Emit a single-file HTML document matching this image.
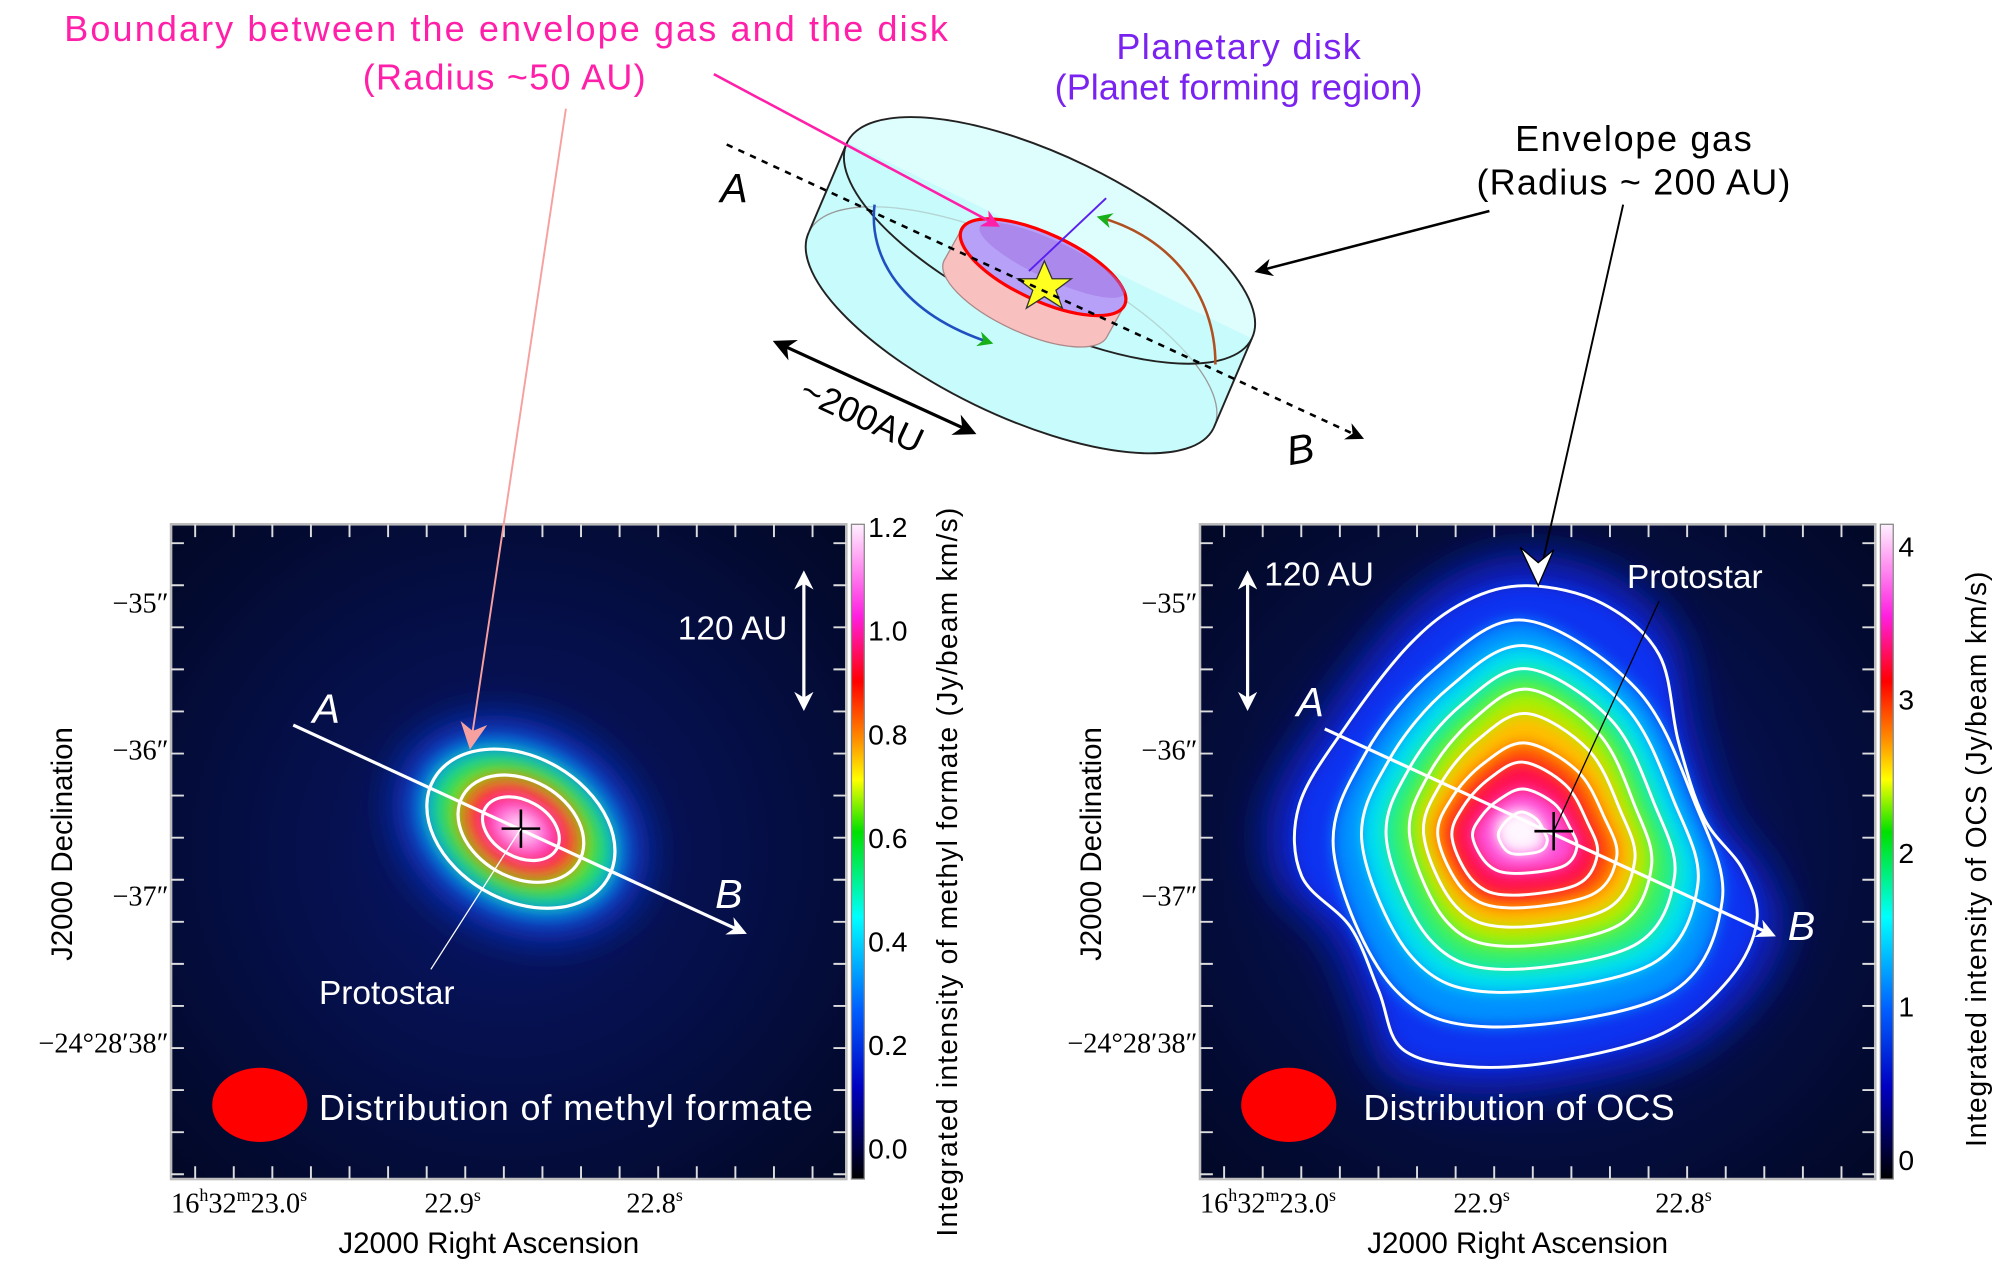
<!DOCTYPE html>
<html><head><meta charset="utf-8"><style>
html,body{margin:0;padding:0;background:#fff;}
svg{display:block;}
text{font-family:"Liberation Sans",sans-serif;}
</style></head><body>
<svg id="sv" width="2000" height="1266" viewBox="0 0 1555 990" preserveAspectRatio="none" xmlns="http://www.w3.org/2000/svg">
<defs>
<linearGradient id="cb" x1="0" y1="0" x2="0" y2="1">
<stop offset="0" stop-color="#fff0ff"/><stop offset="0.14" stop-color="#ff20e0"/><stop offset="0.24" stop-color="#ff0000"/><stop offset="0.33" stop-color="#ff9000"/><stop offset="0.39" stop-color="#ffff00"/><stop offset="0.47" stop-color="#00e000"/><stop offset="0.6" stop-color="#00ffff"/><stop offset="0.74" stop-color="#0060ff"/><stop offset="0.86" stop-color="#0000c0"/><stop offset="1" stop-color="#000000"/>
</linearGradient>
<radialGradient id="bg" cx="0.5" cy="0.5" r="0.7"><stop offset="0" stop-color="#08166a"/><stop offset="1" stop-color="#020826"/></radialGradient>
<filter id="bl" x="-50%" y="-50%" width="200%" height="200%"><feGaussianBlur stdDeviation="9"/></filter>
<filter id="bl3" x="-50%" y="-50%" width="200%" height="200%"><feGaussianBlur stdDeviation="6"/></filter>
<filter id="bl2" x="-50%" y="-50%" width="200%" height="200%"><feGaussianBlur stdDeviation="14"/></filter>
<clipPath id="c1"><rect x="133" y="410" width="525" height="512"/></clipPath>
<clipPath id="c2"><rect x="933" y="410" width="525" height="512"/></clipPath>
<marker id="aw" viewBox="0 0 10 10" refX="8" refY="5" markerWidth="6" markerHeight="6" orient="auto-start-reverse"><path d="M0,0 L10,5 L0,10 L3,5z" fill="#fff"/></marker>
<marker id="ab" viewBox="0 0 10 10" refX="8" refY="5" markerWidth="7" markerHeight="7" orient="auto-start-reverse"><path d="M0,0 L10,5 L0,10 L3,5z" fill="#000"/></marker>
<marker id="am" viewBox="0 0 10 10" refX="8" refY="5" markerWidth="7" markerHeight="7" orient="auto"><path d="M0,0 L10,5 L0,10 L3,5z" fill="#ff1fa8"/></marker>
<marker id="as" viewBox="0 0 10 10" refX="8" refY="5" markerWidth="14" markerHeight="14" orient="auto"><path d="M0,0 L10,5 L0,10 L3,5z" fill="#f7a0a0"/></marker>
<marker id="ag" viewBox="0 0 10 10" refX="8" refY="5" markerWidth="6" markerHeight="6" orient="auto"><path d="M0,0 L10,5 L0,10 L3,5z" fill="#18b018"/></marker>
</defs>

<text x="50" y="32" font-size="28" fill="#ff1fa8" textLength="687">Boundary between the envelope gas and the disk</text>
<text x="282" y="70" font-size="28" fill="#ff1fa8" textLength="220">(Radius ~50 AU)</text>
<text x="868" y="46" font-size="28" fill="#7a22f0" textLength="190">Planetary disk</text>
<text x="820" y="78" font-size="28" fill="#7a22f0" textLength="286">(Planet forming region)</text>
<text x="1178" y="118" font-size="28" fill="#000" textLength="184">Envelope gas</text>
<text x="1148" y="152" font-size="28" fill="#000" textLength="244">(Radius ~ 200 AU)</text>

<g transform="translate(816,188) rotate(26)">
  <g fill="#c8fbfb">
    <ellipse cx="4" cy="76" rx="175" ry="65"/>
    <polygon points="-175,0 175,0 179,76 -171,76"/>
  </g>
  <path d="M-171,76 A175,65 0 0,0 179,76" fill="none" stroke="#222" stroke-width="1.5"/>
  <path d="M-171,76 A175,65 0 0,1 179,76" fill="none" stroke="#999" stroke-width="1"/>
  <line x1="-175" y1="0" x2="-171" y2="76" stroke="#222" stroke-width="1.5"/>
  <line x1="175" y1="0" x2="179" y2="76" stroke="#222" stroke-width="1.5"/>
  <ellipse cx="0" cy="0" rx="175" ry="65" fill="#c8fbfb" fill-opacity="0.6" stroke="#222" stroke-width="1.5"/>
</g>
<g transform="translate(811,209) rotate(25)">
  <ellipse cx="-2" cy="28" rx="70" ry="26" fill="#f9c0c0" stroke="#aa8888" stroke-width="1"/>
  <polygon points="-70,0 70,0 68,28 -72,28" fill="#f9c0c0"/>
  <line x1="-70" y1="0" x2="-72" y2="28" stroke="#aa8888"/>
  <line x1="70" y1="0" x2="68" y2="28" stroke="#aa8888"/>
  <ellipse cx="0" cy="0" rx="70" ry="26" fill="#b7a0f8" stroke="#ff0000" stroke-width="2.5"/>
  <ellipse cx="4" cy="-8" rx="62" ry="15" fill="#a070e0" opacity="0.5"/>
</g>
<polygon points="812,204 818,218 833,218 821,227 826,241 812,232 798,241 803,227 791,218 806,218" fill="#ffff20" stroke="#333" stroke-width="1"/>
<path d="M680,160 C675,200 700,245 770,268" fill="none" stroke="#2050c0" stroke-width="2" marker-end="url(#ag)"/>
<path d="M945,285 C945,230 910,185 855,170" fill="none" stroke="#b05020" stroke-width="2" marker-end="url(#ag)"/>
<line x1="565" y1="113" x2="1058" y2="342" stroke="#000" stroke-width="2" stroke-dasharray="5,5" marker-end="url(#ab)"/>
<text x="560" y="158" font-size="32" font-style="italic">A</text>
<text x="1000" y="362" font-size="32" font-style="italic" transform="rotate(-10 1012 350)">B</text>
<line x1="604" y1="268" x2="756" y2="338" stroke="#000" stroke-width="2.5" marker-start="url(#ab)" marker-end="url(#ab)"/>
<text x="620" y="312" font-size="28" transform="rotate(25 620 312)">~200AU</text>
<line x1="555" y1="58" x2="775" y2="176" stroke="#ff1fa8" stroke-width="2" marker-end="url(#am)"/>
<line x1="860" y1="155" x2="800" y2="212" stroke="#5a20f0" stroke-width="1.5"/>
<line x1="1158" y1="165" x2="978" y2="212" stroke="#000" stroke-width="2" marker-end="url(#ab)"/>

<g clip-path="url(#c1)">
  <rect x="133" y="410" width="525" height="512" fill="url(#bg)"/>
  <g transform="translate(405,648) rotate(30)">
    <ellipse rx="105" ry="82" fill="#0a30c0" filter="url(#bl2)"/>
    <ellipse rx="84" ry="62" fill="#00a8ff" filter="url(#bl)"/>
    <ellipse rx="74" ry="52" fill="#20e060" filter="url(#bl)"/>
    <ellipse rx="56" ry="40" fill="#b0f000" filter="url(#bl)"/>
    <ellipse rx="48" ry="34" fill="#ff3010" filter="url(#bl)"/>
    <ellipse rx="36" ry="25" fill="#ff20c0" filter="url(#bl)"/>
    <ellipse rx="20" ry="13" fill="#fff0ff" filter="url(#bl)"/>
    <g fill="none" stroke="#fff" stroke-width="2.5">
      <ellipse rx="78" ry="56"/><ellipse rx="52" ry="38"/><ellipse rx="32" ry="22"/>
    </g>
  </g>
</g>
<rect x="133" y="410" width="525" height="512" fill="none" stroke="#bbb" stroke-width="2"/>
<g stroke="#ddd">
  <line x1="143" y1="415" x2="658" y2="415" stroke-dasharray="0,8,1.5,20.5" stroke-width="10"/>
  <line x1="143" y1="917" x2="658" y2="917" stroke-dasharray="0,8,1.5,20.5" stroke-width="10"/>
  <line x1="138" y1="420" x2="138" y2="922" stroke-dasharray="0,4,1.5,27.4" stroke-width="10"/>
  <line x1="653" y1="420" x2="653" y2="922" stroke-dasharray="0,4,1.5,27.4" stroke-width="10"/>
</g>
<line x1="228" y1="567" x2="578" y2="729" stroke="#fff" stroke-width="2.5" marker-end="url(#aw)"/>
<text x="243" y="565" font-size="32" font-style="italic" fill="#fff">A</text>
<text x="556" y="710" font-size="32" font-style="italic" fill="#fff">B</text>
<line x1="440" y1="85" x2="366" y2="582" stroke="#f7a0a0" stroke-width="1.5" marker-end="url(#as)"/>
<line x1="390" y1="648" x2="420" y2="648" stroke="#000" stroke-width="2"/><line x1="405" y1="633" x2="405" y2="663" stroke="#000" stroke-width="2"/>
<line x1="405" y1="648" x2="335" y2="758" stroke="#fff" stroke-width="1"/>
<text x="248" y="785" font-size="26" fill="#fff">Protostar</text>
<line x1="625" y1="449" x2="625" y2="553" stroke="#fff" stroke-width="2.5" marker-start="url(#aw)" marker-end="url(#aw)"/>
<text x="527" y="500" font-size="26" fill="#fff">120 AU</text>
<ellipse cx="202" cy="864" rx="37" ry="29" fill="#ff0000"/>
<text x="248" y="876" font-size="28" fill="#fff" textLength="384">Distribution of methyl formate</text>
<rect x="662" y="410" width="10" height="512" fill="url(#cb)" stroke="#888" stroke-width="1"/>
<g font-size="22" fill="#000">
<text x="675" y="420">1.2</text><text x="675" y="501">1.0</text><text x="675" y="582">0.8</text><text x="675" y="663">0.6</text><text x="675" y="744">0.4</text><text x="675" y="825">0.2</text><text x="675" y="906">0.0</text>
</g>
<g font-size="22" fill="#000" text-anchor="end">
<text x="131" y="479" style="font-family:'Liberation Serif',serif">−35″</text><text x="131" y="594" style="font-family:'Liberation Serif',serif">−36″</text><text x="131" y="708" style="font-family:'Liberation Serif',serif">−37″</text><text x="131" y="823" style="font-family:'Liberation Serif',serif">−24°28′38″</text>
</g>
<g font-size="22" fill="#000">
<text x="133" y="948" style="font-family:'Liberation Serif',serif">16<tspan font-size="14" dy="-9">h</tspan><tspan dy="9">32</tspan><tspan font-size="14" dy="-9">m</tspan><tspan dy="9">23.0</tspan><tspan font-size="14" dy="-9">s</tspan></text>
<text x="330" y="948" style="font-family:'Liberation Serif',serif">22.9<tspan font-size="14" dy="-9">s</tspan></text>
<text x="487" y="948" style="font-family:'Liberation Serif',serif">22.8<tspan font-size="14" dy="-9">s</tspan></text>
</g>
<text x="380" y="980" font-size="23" text-anchor="middle">J2000 Right Ascension</text>
<text transform="translate(56,660) rotate(-90)" font-size="23" text-anchor="middle">J2000 Declination</text>
<text transform="translate(744,682) rotate(-90)" font-size="22" text-anchor="middle" textLength="570">Integrated intensity of methyl formate (Jy/beam km/s)</text>

<g clip-path="url(#c2)">
  <rect x="933" y="410" width="525" height="512" fill="url(#bg)"/>
  <g id="fills"></g>
  <g id="lines" fill="none" stroke="#fff" stroke-width="2.3"></g>
</g>
<rect x="933" y="410" width="525" height="512" fill="none" stroke="#bbb" stroke-width="2"/>
<g stroke="#ddd">
  <line x1="943" y1="415" x2="1458" y2="415" stroke-dasharray="0,8,1.5,20.5" stroke-width="10"/>
  <line x1="943" y1="917" x2="1458" y2="917" stroke-dasharray="0,8,1.5,20.5" stroke-width="10"/>
  <line x1="938" y1="420" x2="938" y2="922" stroke-dasharray="0,4,1.5,27.4" stroke-width="10"/>
  <line x1="1453" y1="420" x2="1453" y2="922" stroke-dasharray="0,4,1.5,27.4" stroke-width="10"/>
</g>
<line x1="1030" y1="570" x2="1378" y2="731" stroke="#fff" stroke-width="2.5" marker-end="url(#aw)"/>
<text x="1008" y="560" font-size="32" font-style="italic" fill="#fff">A</text>
<text x="1390" y="735" font-size="32" font-style="italic" fill="#fff">B</text>
<line x1="1262" y1="160" x2="1196" y2="455" stroke="#000" stroke-width="1.5"/>
<path d="M1182,428 L1196,458 L1208,430 L1196,440z" fill="#fff" stroke="#000" stroke-width="1"/>
<line x1="1193" y1="650" x2="1223" y2="650" stroke="#000" stroke-width="2"/><line x1="1208" y1="635" x2="1208" y2="665" stroke="#000" stroke-width="2"/>
<line x1="1208" y1="650" x2="1290" y2="470" stroke="#000" stroke-width="1"/>
<text x="1265" y="460" font-size="26" fill="#fff">Protostar</text>
<line x1="970" y1="449" x2="970" y2="553" stroke="#fff" stroke-width="2.5" marker-start="url(#aw)" marker-end="url(#aw)"/>
<text x="983" y="458" font-size="26" fill="#fff">120 AU</text>
<ellipse cx="1002" cy="864" rx="37" ry="29" fill="#ff0000"/>
<text x="1060" y="876" font-size="28" fill="#fff" textLength="242">Distribution of OCS</text>
<rect x="1462" y="410" width="10" height="512" fill="url(#cb)" stroke="#888" stroke-width="1"/>
<g font-size="22" fill="#000">
<text x="1476" y="435">4</text><text x="1476" y="555">3</text><text x="1476" y="675">2</text><text x="1476" y="795">1</text><text x="1476" y="915">0</text>
</g>
<g font-size="22" fill="#000" text-anchor="end">
<text x="931" y="479" style="font-family:'Liberation Serif',serif">−35″</text><text x="931" y="594" style="font-family:'Liberation Serif',serif">−36″</text><text x="931" y="708" style="font-family:'Liberation Serif',serif">−37″</text><text x="931" y="823" style="font-family:'Liberation Serif',serif">−24°28′38″</text>
</g>
<g font-size="22" fill="#000">
<text x="933" y="948" style="font-family:'Liberation Serif',serif">16<tspan font-size="14" dy="-9">h</tspan><tspan dy="9">32</tspan><tspan font-size="14" dy="-9">m</tspan><tspan dy="9">23.0</tspan><tspan font-size="14" dy="-9">s</tspan></text>
<text x="1130" y="948" style="font-family:'Liberation Serif',serif">22.9<tspan font-size="14" dy="-9">s</tspan></text>
<text x="1287" y="948" style="font-family:'Liberation Serif',serif">22.8<tspan font-size="14" dy="-9">s</tspan></text>
</g>
<text x="1180" y="980" font-size="23" text-anchor="middle">J2000 Right Ascension</text>
<text transform="translate(856,660) rotate(-90)" font-size="23" text-anchor="middle">J2000 Declination</text>
<text transform="translate(1544,672) rotate(-90)" font-size="22" text-anchor="middle" textLength="450">Integrated intensity of OCS (Jy/beam km/s)</text>
</svg>
<script>
(function(){
var NS="http://www.w3.org/2000/svg";
function cr(p){var n=p.length,d="M"+p[0][0].toFixed(1)+","+p[0][1].toFixed(1);
for(var i=0;i<n;i++){var a=p[(i-1+n)%n],b=p[i],c=p[(i+1)%n],e=p[(i+2)%n];
d+=" C"+(b[0]+(c[0]-a[0])/6).toFixed(1)+","+(b[1]+(c[1]-a[1])/6).toFixed(1)+" "+(c[0]-(e[0]-b[0])/6).toFixed(1)+","+(c[1]-(e[1]-b[1])/6).toFixed(1)+" "+c[0].toFixed(1)+","+c[1].toFixed(1);}
return d+"Z";}
var outer=[[1188,458],[1246,472],[1290,512],[1305,580],[1325,640],[1355,680],[1366,720],[1345,765],[1293,808],[1210,830],[1141,834],[1090,820],[1072,775],[1050,725],[1012,685],[1010,630],[1045,570],[1095,505],[1140,470]];
var gen=[[0.49,0],[0.78,0.17],[0.93,0.45],[1,0.69],[0.86,0.92],[0.4,1],[0.15,0.9],[0,0.57],[0.08,0.33],[0.26,0.12]];
var boxes=[[485,803,1037,1339],[505,776,1059,1320],[523,758,1078,1302],[539,740,1096,1284],[558,725,1107,1271],[581,710,1118,1257],[596,700,1129,1242],[617,683,1145,1226],[635,668,1165,1203]];
function boxPts(b){return gen.map(function(g){return [b[2]+g[0]*(b[3]-b[2]),b[0]+g[1]*(b[1]-b[0])];});}
var paths=[cr(outer)];boxes.forEach(function(b){paths.push(cr(boxPts(b)));});
var cols=["#0a30f0","#0090ff","#00e0f0","#30f070","#a8f000","#ffc000","#ff5a00","#ff1050","#ff50d8","#fff0ff"];
var fills=document.getElementById("fills"),lines=document.getElementById("lines");
var g0=document.createElementNS(NS,"path");g0.setAttribute("d",paths[0]);g0.setAttribute("fill","#0a22c8");g0.setAttribute("filter","url(#bl2)");g0.setAttribute("transform","translate(1190,660) scale(1.12) translate(-1190,-660)");fills.appendChild(g0);
paths.forEach(function(d,i){var e=document.createElementNS(NS,"path");e.setAttribute("d",d);e.setAttribute("fill",cols[i]);e.setAttribute("filter","url(#bl3)");fills.appendChild(e);});
var c=document.createElementNS(NS,"ellipse");c.setAttribute("cx","1180");c.setAttribute("cy","648");c.setAttribute("rx","16");c.setAttribute("ry","13");c.setAttribute("fill","#fff8ff");c.setAttribute("filter","url(#bl3)");fills.appendChild(c);
paths.forEach(function(d){var e=document.createElementNS(NS,"path");e.setAttribute("d",d);lines.appendChild(e);});
})();
</script>
</body></html>
